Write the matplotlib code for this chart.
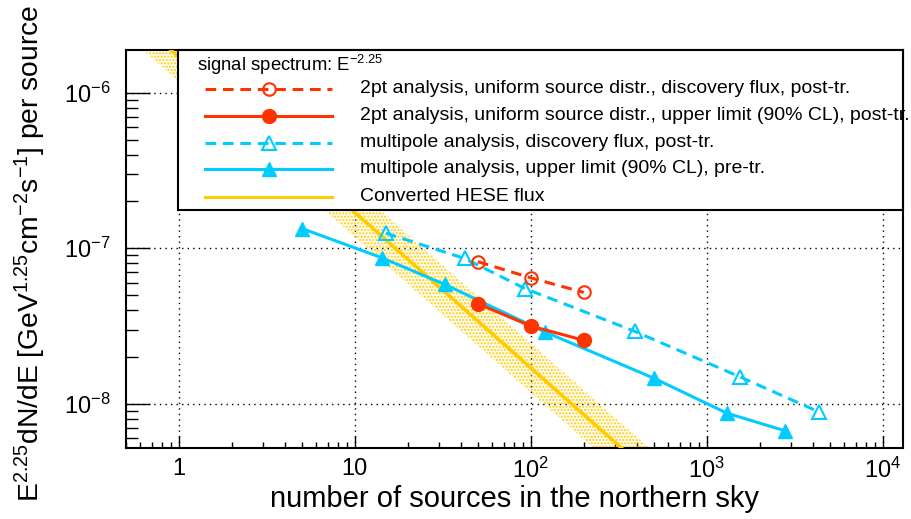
import numpy as np
import matplotlib
matplotlib.use("Agg")
import matplotlib.pyplot as plt
from matplotlib.lines import Line2D
from matplotlib.patches import Rectangle
from matplotlib.ticker import LogLocator, NullFormatter, FixedFormatter, FixedLocator

plt.rcParams['font.family'] = ['Liberation Sans', 'DejaVu Sans']
plt.rcParams['mathtext.fontset'] = 'custom'
plt.rcParams['mathtext.rm'] = 'Liberation Sans'
plt.rcParams['mathtext.it'] = 'Liberation Sans:italic'
plt.rcParams['mathtext.default'] = 'regular'
plt.rcParams['hatch.linewidth'] = 1.1

RED = '#ff3300'
CYAN = '#00ccff'
GOLD = '#ffcc00'

# 2pt analysis, uniform source distribution
pt_n = [50, 100, 200]
pt_disc = [8.2e-8, 6.45e-8, 5.2e-8]
pt_ul = [4.4e-8, 3.16e-8, 2.56e-8]

# multipole analysis
mp_disc_n = [15, 42, 93, 390, 1540, 4350]
mp_disc = [1.25e-7, 8.6e-8, 5.5e-8, 2.92e-8, 1.49e-8, 8.85e-9]
mp_ul_n = [5, 14.2, 32.5, 120, 500, 1300, 2780]
mp_ul = [1.34e-7, 8.7e-8, 5.85e-8, 2.9e-8, 1.46e-8, 8.7e-9, 6.7e-9]

# converted HESE flux (per source) and its band
hese_n = [0.5, 1000]
hese_flux = [3.4e-6, 1.7e-9]
hese_lo = [2.36e-6, 1.18e-9]
hese_hi = [4.9e-6, 2.45e-9]

legend_title = r'signal spectrum: E$^{-2.25}$'
legend_labels = [
    '2pt analysis, uniform source distr., discovery flux, post-tr.',
    '2pt analysis, uniform source distr., upper limit (90% CL), post-tr.',
    'multipole analysis, discovery flux, post-tr.',
    'multipole analysis, upper limit (90% CL), pre-tr.',
    'Converted HESE flux',
]

xticks = [1, 10, 100, 1000, 10000]
xticklabels = ['1', '10', r'10$^{2}$', r'10$^{3}$', r'10$^{4}$']
yticks = [1e-8, 1e-7, 1e-6]
yticklabels = [r'10$^{-8}$', r'10$^{-7}$', r'10$^{-6}$']

fig = plt.figure(figsize=(9.12, 5.19), dpi=100)
ax = fig.add_axes([0.138, 0.137, 0.852, 0.767])
ax.set_xscale('log')
ax.set_yscale('log')
ax.set_xlim(0.5, 1.3e4)
ax.set_ylim(5.2e-9, 1.89e-6)

# HESE band and line
ax.fill_between(hese_n, hese_lo, hese_hi, facecolor='none', edgecolor=GOLD,
                hatch='.....', linewidth=0, zorder=2)
ax.plot(hese_n, hese_flux, color=GOLD, lw=2.6, zorder=3)

# curves
dash = (0, (3.5, 2.2))
ax.plot(pt_n, pt_disc, color=RED, lw=2.2, ls=dash, marker='o',
        ms=9, mfc='none', mec=RED, mew=1.5, zorder=5)
ax.plot(pt_n, pt_ul, color=RED, lw=2.2, marker='o', ms=10, mfc=RED, mec=RED, zorder=5)
ax.plot(mp_disc_n, mp_disc, color=CYAN, lw=2.2, ls=dash, marker='^',
        ms=10.5, mfc='none', mec=CYAN, mew=1.5, zorder=4)
ax.plot(mp_ul_n, mp_ul, color=CYAN, lw=2.2, marker='^', ms=10.5, mfc=CYAN, mec=CYAN, zorder=4)

# grid at major decades
for v in xticks:
    ax.axvline(v, color='black', lw=1, ls=(0, (1, 3)), zorder=1)
for v in yticks:
    ax.axhline(v, color='black', lw=1, ls=(0, (1, 3)), zorder=1)

# ticks ROOT style
ax.xaxis.set_major_locator(FixedLocator(xticks))
ax.xaxis.set_major_formatter(FixedFormatter(xticklabels))
ax.xaxis.set_minor_locator(LogLocator(base=10, subs=np.arange(2, 10), numticks=20))
ax.xaxis.set_minor_formatter(NullFormatter())
ax.yaxis.set_major_locator(FixedLocator(yticks))
ax.yaxis.set_major_formatter(FixedFormatter(yticklabels))
ax.yaxis.set_minor_locator(LogLocator(base=10, subs=np.arange(2, 10), numticks=20))
ax.yaxis.set_minor_formatter(NullFormatter())
ax.tick_params(axis='x', which='major', direction='in', length=8.6, width=1, labelsize=17, pad=7)
ax.tick_params(axis='x', which='minor', direction='in', length=4.3, width=1)
ax.tick_params(axis='y', which='major', direction='in', length=17, width=1, labelsize=17, pad=11)
ax.tick_params(axis='y', which='minor', direction='in', length=8.6, width=1)
for s in ax.spines.values():
    s.set_linewidth(1.5)

ax.set_xlabel('number of sources in the northern sky', fontsize=21)
ax.xaxis.set_label_coords(0.5, -0.094)
ax.set_ylabel(r'E$^{2.25}$dN/dE [GeV$^{1.25}$cm$^{-2}$s$^{-1}$] per source', fontsize=20.3)
ax.yaxis.set_label_coords(-0.100, 0.49)

# legend box drawn like the ROOT TLegend
x0, y0 = 0.0669, 0.598
ax.add_patch(Rectangle((x0, y0), 1 - x0, 1 - y0, transform=ax.transAxes,
                       facecolor='white', edgecolor='black', lw=1.5, zorder=10, clip_on=False))
ax.text(0.0914, 0.962, legend_title, transform=ax.transAxes, fontsize=13.3,
        va='center', ha='left', zorder=11)
styles = [
    dict(color=RED, ls=dash, marker='o', mfc='none', mec=RED, mew=1.5, ms=9),
    dict(color=RED, ls='-', marker='o', mfc=RED, mec=RED, ms=10),
    dict(color=CYAN, ls=dash, marker='^', mfc='none', mec=CYAN, mew=1.5, ms=10.5),
    dict(color=CYAN, ls='-', marker='^', mfc=CYAN, mec=CYAN, ms=10.5),
    dict(color=GOLD, ls='-'),
]
rows = [0.902, 0.834, 0.766, 0.701, 0.631]
for yy, lab, st in zip(rows, legend_labels, styles):
    ax.add_line(Line2D([0.1017, 0.2651], [yy, yy], transform=ax.transAxes, lw=2.2,
                       color=st['color'], ls=st['ls'], zorder=11, clip_on=False))
    if 'marker' in st:
        ax.add_line(Line2D([0.184], [yy], transform=ax.transAxes, ls='none', zorder=12,
                           clip_on=False, marker=st['marker'], mfc=st['mfc'], mec=st['mec'],
                           mew=st.get('mew', 1), ms=st['ms']))
    ax.text(0.301, yy, lab, transform=ax.transAxes, fontsize=14, va='center',
            ha='left', zorder=11, clip_on=False)

fig.savefig('out.png', dpi=100)
